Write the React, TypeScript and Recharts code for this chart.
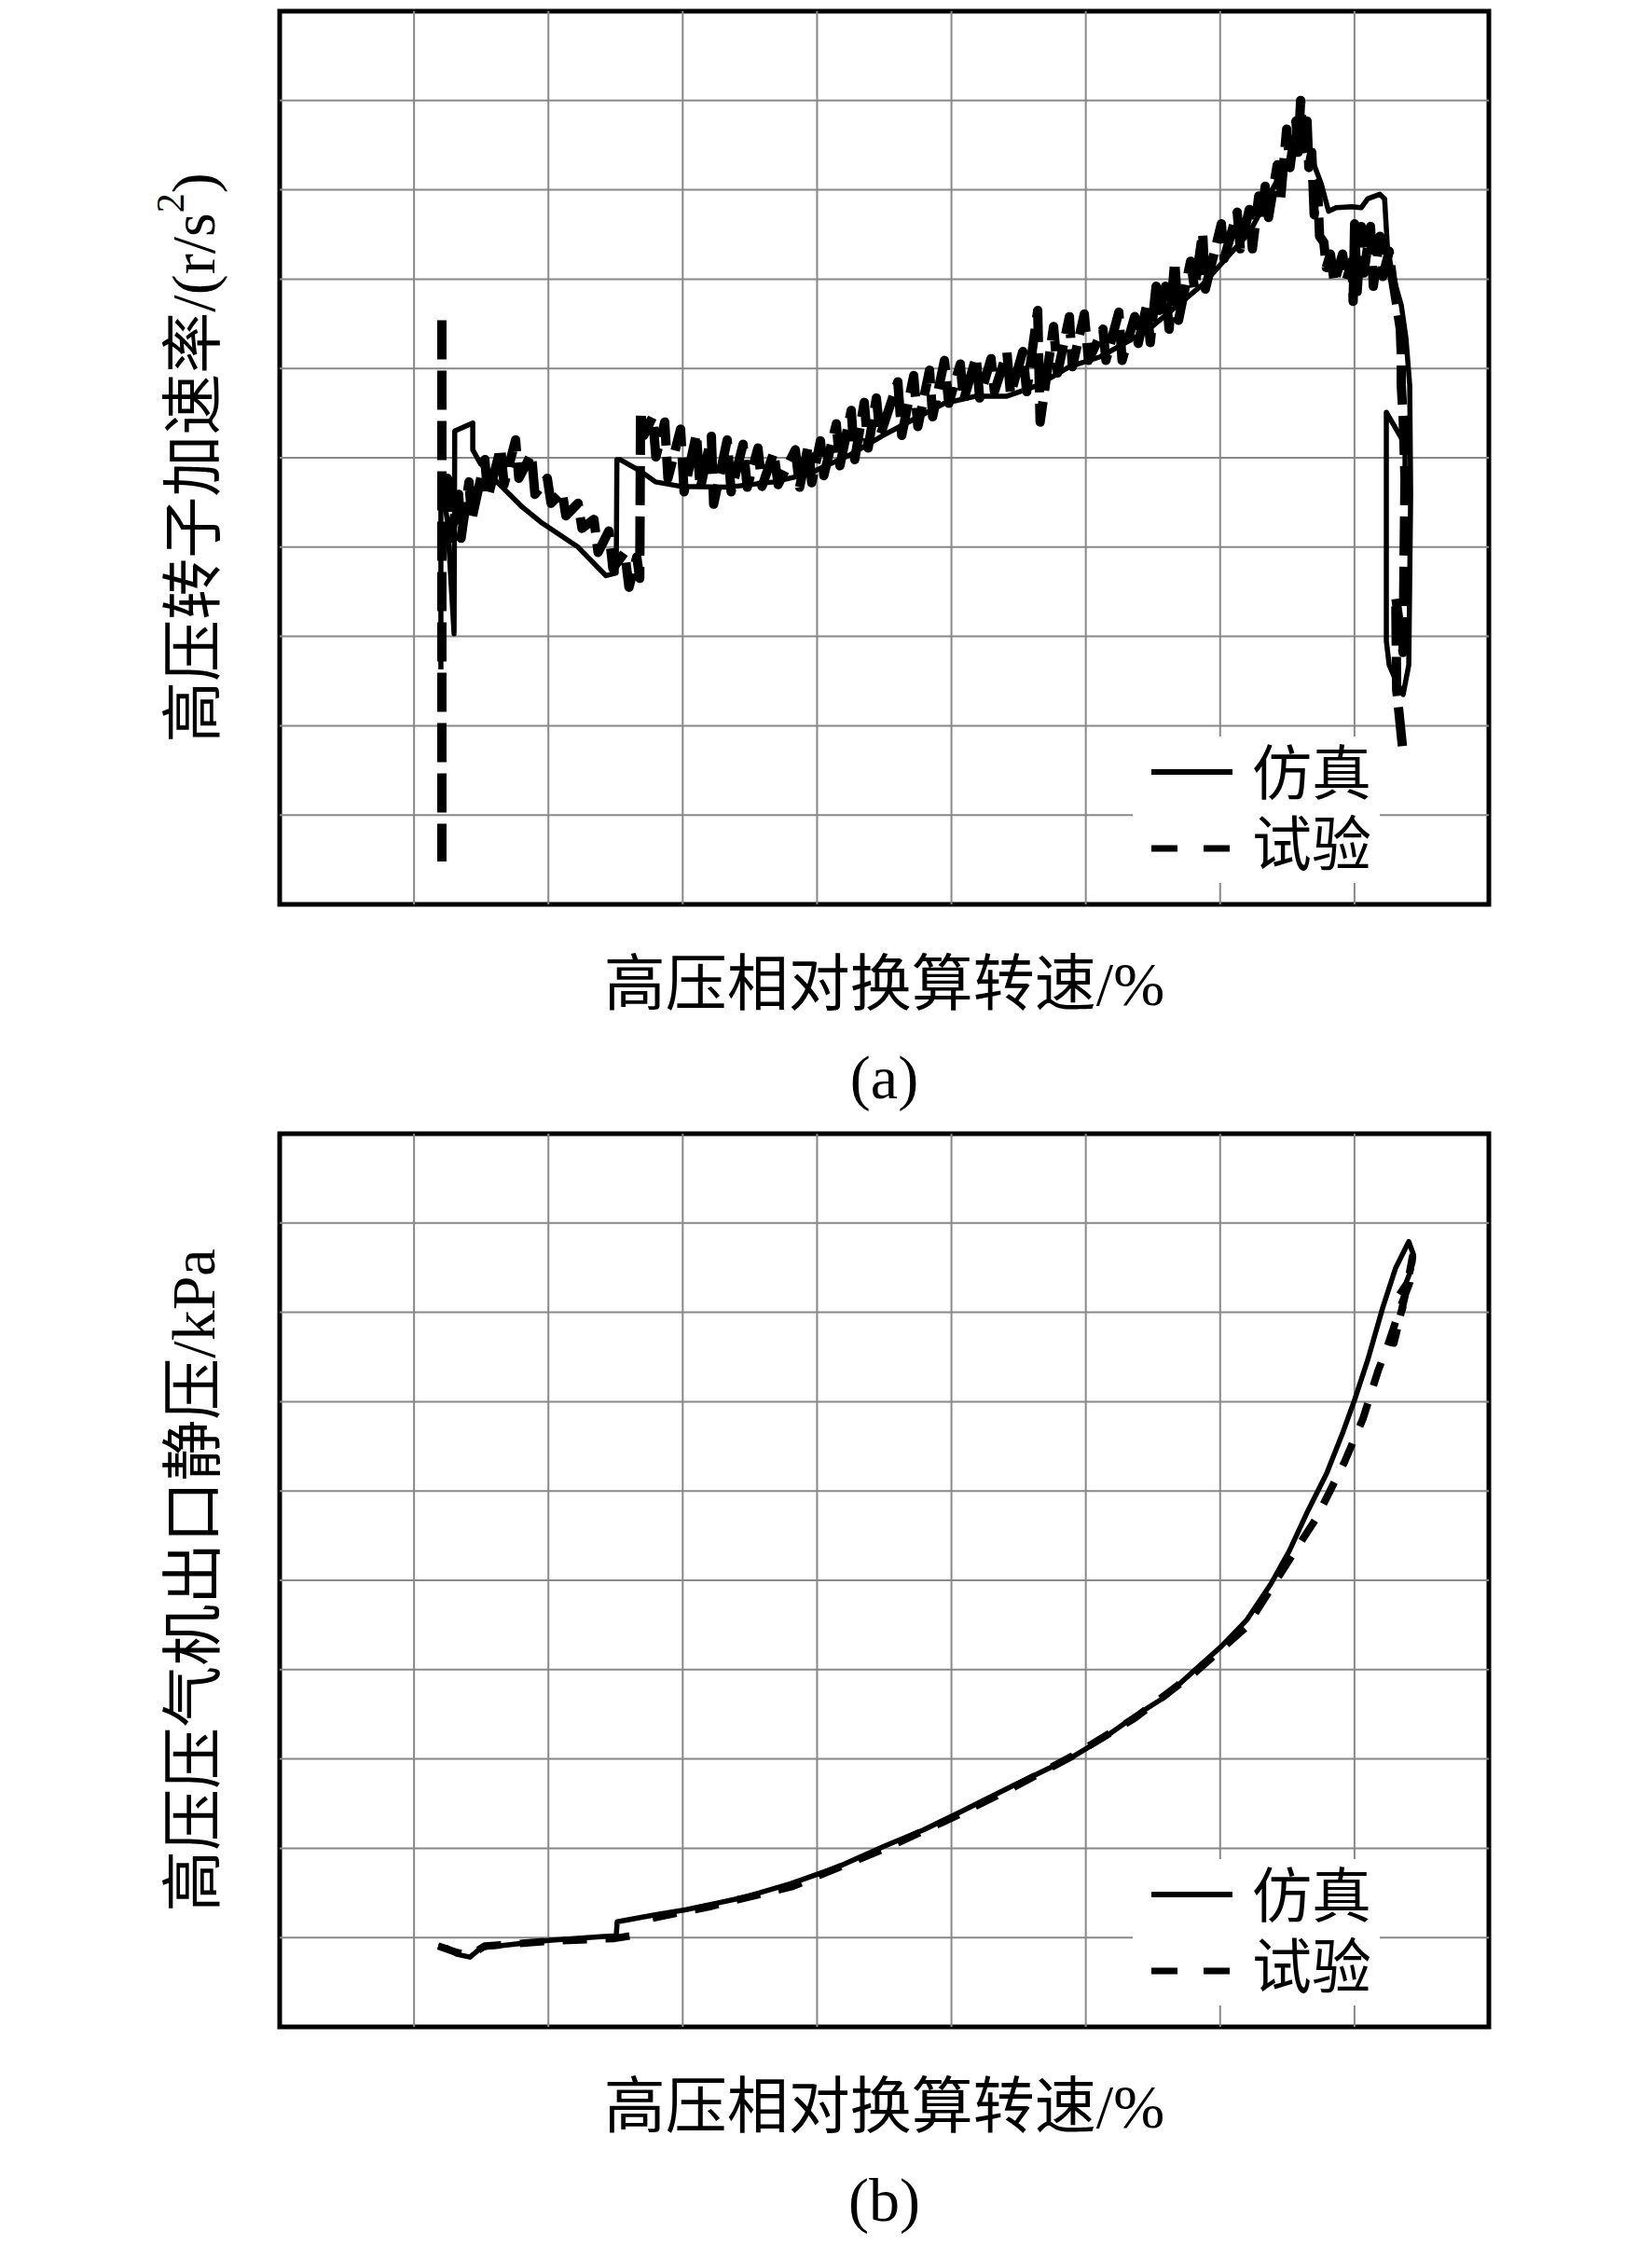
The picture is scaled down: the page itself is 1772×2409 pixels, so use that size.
import React from 'react';
import { LineChart, Line, XAxis, YAxis, ReferenceArea, ReferenceLine } from 'recharts';

const FONT = "'Liberation Serif', 'Noto Sans CJK SC', serif";

// grid positions (no numbers are printed in the figure; one grid cell = 10 units)
const X_TICKS = [10, 20, 30, 40, 50, 60, 70, 80];
const Y_TICKS = [10, 20, 30, 40, 50, 60, 70, 80, 90];

const SERIES_NAMES = ['仿真', '试验'];
const X_TITLE = '高压相对换算转速/%';
const Y_TITLE_A = '高压转子加速率/(r/s';
const Y_TITLE_B = '高压压气机出口静压/kPa';
const CAPTIONS = ['(a)', '(b)'];

// (a) simulation
const SIM_A: [number, number][] = [
  [12.0, 26.3], [12.0, 48.0], [12.49, 42.8], [12.98, 30.3], [13.03, 53.0], [14.37, 53.9],
  [14.37, 50.9], [14.92, 49.4], [16.17, 47.3], [18.04, 44.5], [19.43, 42.8], [22.21, 40.0],
  [24.29, 36.8], [25.05, 37.1], [25.1, 49.8], [25.33, 49.8], [26.86, 48.5], [27.97, 47.3],
  [29.84, 46.8], [33.31, 46.7], [36.78, 47.3], [39.35, 48.2], [42.54, 50.4], [44.9, 52.5],
  [49.48, 56.1], [51.84, 56.9], [54.13, 56.9], [56.42, 58.1], [58.78, 60.2], [61.07, 61.3],
  [64.54, 64.2], [68.7, 69.4], [72.17, 75.2], [75.85, 85.6], [76.54, 84.6], [77.52, 80.7],
  [78.07, 77.6], [78.63, 78.0], [79.81, 78.1], [80.5, 78.0], [80.99, 79.0], [81.89, 79.5],
  [82.24, 79.0], [82.44, 73.8], [82.79, 70.7], [83.48, 67.1], [83.83, 63.4], [84.11, 58.1],
  [84.18, 45.9], [84.04, 26.8], [83.62, 23.5], [83.07, 25.1], [82.58, 26.8], [82.37, 29.5],
  [82.37, 55.1], [83.76, 51.5], [83.76, 47.0],
];

// (a) test (noisy record: upper / lower excursions)
const TEST_A: [number, number | null][] = [
  [12.07, 65.4], [12.07, 4.8], [12.09, null],
  [12.1, 47.5],
  [12.49, 47.7], [12.7, 41.0], [13.32, 45.9], [13.5, 41.0], [14.09, 47.3], [14.3, 43.1],
  [15.27, 49.8], [15.5, 45.6], [16.45, 51.1], [16.7, 47.0], [17.56, 52.0], [17.8, 47.7],
  [18.74, 50.4], [19.0, 45.9], [19.92, 47.7], [20.2, 44.9], [21.03, 46.2], [21.3, 43.5],
  [22.21, 44.9], [22.5, 42.1], [23.39, 43.1], [23.7, 39.4], [24.5, 41.8], [24.8, 37.6],
  [25.68, 39.4], [26.0, 35.5], [26.58, 38.9], [26.8, 36.5],
  [26.86, 55.3], [27.1, 52.5], [27.76, 54.6], [28.0, 50.1], [28.66, 54.0], [28.9, 47.7],
  [29.84, 53.2], [30.1, 46.2], [31.02, 52.7], [31.3, 46.5], [32.13, 52.4], [32.3, 44.8],
  [33.31, 52.0], [33.6, 46.2], [34.49, 51.5], [34.8, 46.7], [35.6, 51.1], [35.9, 46.8],
  [36.78, 50.6], [37.1, 47.0], [38.38, 50.9], [38.7, 46.7], [39.35, 51.4], [39.6, 47.2],
  [40.25, 51.9], [40.5, 48.0], [41.43, 53.8], [41.7, 49.1], [42.54, 55.3], [42.8, 49.8],
  [43.51, 56.2], [43.8, 51.1], [44.41, 56.7], [44.7, 52.5], [46.01, 58.5], [46.3, 52.5],
  [47.19, 59.2], [47.5, 53.5], [48.37, 59.8], [48.6, 54.6], [49.48, 60.9], [49.8, 56.1],
  [50.66, 60.5], [50.9, 56.4], [51.84, 61.3], [52.1, 56.7], [52.95, 61.1], [53.2, 57.4],
  [54.13, 61.8], [54.4, 57.1], [55.31, 61.9], [55.6, 57.4], [56.42, 66.5], [56.6, 54.0],
  [57.6, 64.7], [57.9, 59.5], [58.78, 65.8], [59.0, 60.2], [59.89, 66.1], [60.2, 60.9],
  [61.28, 64.4], [61.5, 60.9], [62.46, 66.3], [62.7, 60.9], [63.64, 65.8], [63.9, 62.8],
  [64.54, 67.1], [64.8, 62.9], [65.23, 69.2], [65.5, 66.5], [65.93, 69.2], [66.2, 64.4],
  [66.62, 72.0], [66.9, 65.4], [67.8, 72.0], [68.1, 68.9], [68.7, 75.2], [68.9, 68.9],
  [70.09, 76.2], [70.3, 72.3], [71.27, 77.5], [71.5, 73.4], [72.17, 77.8], [72.4, 73.4],
  [72.87, 79.3], [73.1, 76.5], [73.35, 80.4], [73.6, 76.9], [74.25, 82.8], [74.5, 79.0],
  [74.95, 86.8], [75.2, 82.5], [75.64, 87.7], [75.8, 84.2], [75.99, 90.0], [76.2, 84.6],
  [76.47, 87.7], [76.6, 82.5], [76.82, 84.2], [77.0, 77.2], [77.24, 80.7], [77.4, 74.8],
  [77.72, 74.1], [77.9, 71.3], [78.21, 72.8], [78.5, 69.6], [79.11, 72.8], [79.4, 69.9],
  [79.81, 72.0], [79.9, 67.5], [80.01, 76.2], [80.2, 68.6], [80.5, 75.9], [80.7, 70.7],
  [81.19, 75.9], [81.4, 69.2], [81.89, 74.8], [82.1, 70.3], [82.58, 73.1], [82.8, 70.3],
  [83.07, 67.8], [83.41, 64.4], [83.48, 61.6], [83.48, 58.1], [83.62, 54.6], [83.76, 47.7],
  [83.69, 38.6], [83.62, 28.2], [83.07, 34.4], [83.14, 24.0], [83.62, 16.9],
];

// (b) simulation
const SIM_B: [number, number][] = [
  [11.8, 9.06], [12.49, 8.85], [13.19, 8.13], [14.16, 7.81], [14.99, 8.85], [17.49, 9.27],
  [19.99, 9.69], [23.87, 10.1], [25.05, 10.21], [25.12, 11.77], [27.76, 12.5], [30.26, 13.13],
  [34.49, 14.48], [38.03, 16.04], [41.57, 17.92], [45.11, 20.31], [47.95, 22.08], [50.1, 23.65],
  [54.55, 26.98], [58.99, 30.21], [61.28, 32.29], [63.64, 34.79], [65.93, 36.98], [68.22, 40.1],
  [70.09, 42.6], [71.96, 45.52], [73.77, 49.58], [75.16, 53.33], [76.54, 57.81], [77.93, 61.98],
  [79.11, 66.46], [80.01, 70.21], [80.99, 74.69], [82.1, 80.52], [83.07, 85.0], [84.04, 87.92],
  [84.39, 86.46], [84.25, 84.9], [83.83, 83.3], [83.28, 82.08],
];

// (b) test (two records, gap between them)
const TEST_B: [number, number | null][] = [
  [11.8, 9.06], [13.19, 8.33], [14.16, 8.02], [15.27, 9.06], [19.99, 9.58], [24.91, 9.9],
  [27.06, 10.42], [27.4, null],
  [27.76, 12.19], [31.92, 13.44], [38.17, 15.73], [45.11, 20.0], [50.1, 23.44], [54.55, 26.77],
  [58.99, 30.31], [63.64, 34.58], [68.22, 39.79], [71.96, 44.79], [75.64, 53.44], [77.17, 56.98],
  [79.25, 63.23], [80.64, 68.13], [81.75, 73.44], [82.45, 76.2], [83.48, 80.83], [84.11, 83.33],
  [84.32, 86.25], [83.83, 82.29], [82.93, 76.56], [83.62, 80.73],
];

const toRows = (pts: [number, number | null][]) => pts.map(([x, y]) => ({ x, y }));

// layout of one panel (pixels)
const W = 1772;
const H = 1205;
const M = { top: 12, right: 175, bottom: 235, left: 300 };
const PLOT_W = W - M.left - M.right;
const PLOT_H = H - M.top - M.bottom;

const LegendBox = () => (
  <div style={{ position: 'absolute', left: 1215, top: 790, width: 265, height: 157, background: '#fff' }}>
    <svg width={265} height={157} style={{ position: 'absolute', left: 0, top: 0 }}>
      <line x1={20} y1={38} x2={107} y2={38} stroke="#000" strokeWidth={6} />
      <line x1={20} y1={120} x2={107} y2={120} stroke="#000" strokeWidth={7} strokeDasharray="28 28" />
      <text x={128} y={40} fontSize={64} fontFamily={FONT} dominantBaseline="central">{SERIES_NAMES[0]}</text>
      <text x={128} y={116} fontSize={64} fontFamily={FONT} dominantBaseline="central">{SERIES_NAMES[1]}</text>
    </svg>
  </div>
);

type PanelProps = {
  sim: [number, number][];
  test: [number, number | null][];
  yTitle: React.ReactNode;
  caption: string;
  dash: string;
  testWidth: number;
};

const Panel = ({ sim, test, yTitle, caption, dash, testWidth }: PanelProps) => {
  const cx = M.left + PLOT_W / 2;
  const by = M.top + PLOT_H;
  const yx = M.left - 93;
  const yy = M.top + PLOT_H / 2;
  return (
    <div style={{ position: 'relative', width: W, height: H }}>
      <LineChart width={W} height={H} margin={M}>
        <XAxis type="number" dataKey="x" domain={[0, 90]} ticks={X_TICKS} hide allowDataOverflow />
        <YAxis type="number" domain={[0, 100]} ticks={Y_TICKS} hide allowDataOverflow />
        {X_TICKS.map((v) => (
          <ReferenceLine key={`vx${v}`} x={v} stroke="#888" strokeWidth={2} />
        ))}
        {Y_TICKS.map((v) => (
          <ReferenceLine key={`hy${v}`} y={v} stroke="#888" strokeWidth={2} />
        ))}
        <Line data={toRows(sim)} dataKey="y" type="linear" stroke="#000" strokeWidth={5.5} dot={false}
          isAnimationActive={false} name={SERIES_NAMES[0]} strokeLinejoin="round" />
        <Line data={toRows(test)} dataKey="y" type="linear" stroke="#000" strokeWidth={testWidth} dot={false}
          strokeDasharray={dash} isAnimationActive={false} name={SERIES_NAMES[1]} strokeLinejoin="round" />
        <ReferenceArea x1={0} x2={90} y1={0} y2={100} fill="none" fillOpacity={0} stroke="#000" strokeWidth={5}
          strokeOpacity={1} ifOverflow="visible" />
      </LineChart>
      <LegendBox />
      <svg width={W} height={H} style={{ position: 'absolute', left: 0, top: 0, pointerEvents: 'none' }}>
        <text x={cx} y={by + 108} textAnchor="middle" fontSize={66} fontFamily={FONT} fill="#000">{X_TITLE}</text>
        <text x={cx} y={by + 208} textAnchor="middle" fontSize={66} fontFamily={FONT} fill="#000">{caption}</text>
        <text x={yx} y={yy} transform={`rotate(-90 ${yx} ${yy})`} textAnchor="middle" dominantBaseline="central"
          fontSize={66} fontFamily={FONT} fill="#000">{yTitle}</text>
      </svg>
    </div>
  );
};

export default function App() {
  return (
    <div style={{ position: 'absolute', left: 0, top: 0, width: 1772, height: 2409, background: '#fff' }}>
      <div style={{ position: 'absolute', left: 0, top: 0 }}>
        <Panel sim={SIM_A} test={TEST_A} caption={CAPTIONS[0]} dash="42 12" testWidth={10}
          yTitle={<>{Y_TITLE_A}<tspan dy={-24} fontSize={42}>2</tspan><tspan dy={24}>)</tspan></>} />
      </div>
      <div style={{ position: 'absolute', left: 0, top: 1204 }}>
        <Panel sim={SIM_B} test={TEST_B} caption={CAPTIONS[1]} dash="26 20" testWidth={8}
          yTitle={Y_TITLE_B} />
      </div>
    </div>
  );
}
